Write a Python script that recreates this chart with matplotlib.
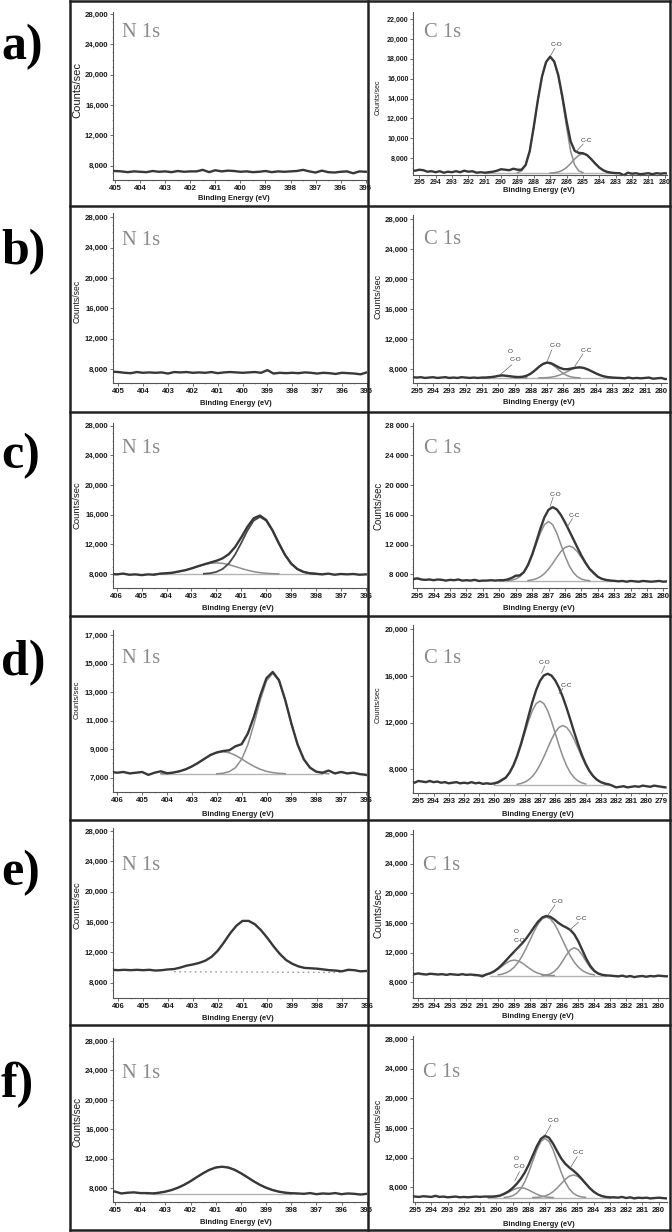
import numpy as np
import matplotlib
matplotlib.use("Agg")
import matplotlib.pyplot as plt
from matplotlib.ticker import FuncFormatter, FixedLocator, AutoMinorLocator, MultipleLocator
from matplotlib.lines import Line2D

W, H = 672, 1232
STEP = 0.25

plt.rcParams['font.family'] = ['Liberation Sans', 'DejaVu Sans']
plt.rcParams['font.weight'] = 'bold'

# ---------------- data (counts/sec) ----------------
# a) N 1s
aN_start = 405.25
aN_raw = [7250, 7300, 7250, 7150, 7250, 7200, 7150, 7300, 7200, 7250, 7150, 7300, 7200, 7250,
          7250, 7450, 7150, 7400, 7250, 7350, 7300, 7200, 7250, 7150, 7200, 7300, 7150, 7250,
          7200, 7250, 7300, 7450, 7250, 7100, 7350, 7150, 7100, 7200, 7250, 7000, 7250, 7200, 7250]

# a) C 1s
aC_start = 295.5
aC_raw = [6800, 6750, 6850, 6800, 6650, 6700, 6600, 6700, 6550, 6650, 6600, 6700, 6600, 6750,
          6650, 6700, 6550, 6600, 6550, 6600, 6650, 6750, 6900, 6850, 6800, 6950, 6850, 6850,
          7320, 8720, 11180, 13870, 16210, 17670, 18210, 17720, 16330, 14160, 11750, 9700, 8750,
          8540, 8510, 8330, 7930, 7480, 7070, 6790, 6620, 6550, 6510, 6500, 6300, 6550, 6450,
          6500, 6400, 6450, 6500, 6400, 6500, 6450, 6500, 6450]
aC_base = 6500
aC_base_range = [291.0, 283.0]
aC_CO_start = 289.0
aC_CO = [60, 234, 820, 2220, 4680, 7370, 9710, 11170, 11700, 11170, 9710, 7370, 4680, 2220, 820, 234, 60]
aC_CC_start = 287.0
aC_CC = [14, 45, 122, 285, 569, 975, 1433, 1806, 1950, 1806, 1433, 975, 569, 285, 122, 45, 14]

# b) N 1s
bN_start = 405.25
bN_raw = [7650, 7600, 7500, 7450, 7600, 7500, 7550, 7500, 7550, 7400, 7600, 7550, 7600, 7500,
          7550, 7500, 7600, 7450, 7550, 7600, 7550, 7500, 7550, 7600, 7500, 7850, 7400, 7500,
          7450, 7500, 7450, 7550, 7500, 7400, 7500, 7450, 7350, 7500, 7450, 7400, 7300, 7550, 7450]

# b) C 1s
bC_start = 295.25
bC_raw = [6950, 6900, 6950, 6850, 6900, 6950, 6850, 6900, 6950, 6850, 6900, 6850, 6950, 6900,
          6850, 6900, 6850, 6900, 6900, 6950, 7000, 7130, 7200, 7130, 7060, 7000, 6970, 7010,
          7150, 7430, 7850, 8330, 8720, 8900, 8800, 8520, 8220, 8030, 8010, 8110, 8220, 8260,
          8180, 7980, 7720, 7450, 7220, 7050, 6950, 6900, 6870, 6850, 6800, 6900, 6800, 6850,
          6800, 6850, 6900, 6750, 6800, 6850, 6700, 6750]
bC_base = 6850
bC_base_range = [291.0, 282.5]
bC_OCO_start = 291.25
bC_OCO = [12, 33, 73, 135, 211, 275, 300, 275, 211, 135, 73, 33, 12]
bC_CO_start = 289.0
bC_CO = [14, 46, 125, 292, 584, 1000, 1470, 1852, 2000, 1852, 1470, 1000, 584, 292, 125, 46, 14]
bC_CC_start = 287.5
bC_CC = [7, 18, 46, 102, 204, 368, 595, 865, 1130, 1327, 1400, 1327, 1130, 865, 595, 368, 204,
         102, 46, 18, 7]

# c) N 1s
cN_start = 406.25
cN_raw = [8000, 7950, 8050, 7900, 7950, 7850, 7950, 7900, 8050, 8100, 8180, 8350, 8510, 8750,
          9030, 9290, 9540, 9780, 10110, 10680, 11630, 12940, 14380, 15520, 15880, 15290, 13920,
          12210, 10620, 9420, 8670, 8280, 8100, 8030, 7950, 8050, 7900, 8000, 7950, 8000, 7900,
          7950, 7900]
cN_base = 8000
cN_base_range = [404.25, 397.75]
cN_P1_start = 402.5
cN_P1 = [32, 101, 280, 673, 1417, 2610, 4189, 5875, 7200, 7700, 7200, 5875, 4189, 2610, 1417,
         673, 280, 101, 32]
cN_P2_start = 404.5
cN_P2 = [20, 45, 94, 180, 315, 509, 750, 1016, 1262, 1437, 1500, 1437, 1262, 1016, 750, 509,
         315, 180, 94, 45, 20]

# c) C 1s
cC_start = 295.25
cC_raw = [7350, 7450, 7300, 7250, 7300, 7200, 7300, 7250, 7150, 7250, 7200, 7300, 7150, 7200,
          7150, 7250, 7100, 7150, 7150, 7200, 7150, 7200, 7200, 7300, 7500, 7800, 7850, 8290,
          9270, 10640, 12340, 14120, 15670, 16690, 17030, 16740, 16000, 15000, 13900, 12770,
          11640, 10540, 9560, 8730, 8200, 7660, 7390, 7240, 7160, 7120, 7050, 7100, 7000, 7100,
          7050, 7000, 7100, 7050, 7000, 7050, 7100, 7000, 7050]
cC_base = 7100
cC_base_range = [290.0, 283.0]
cC_CO_start = 289.5
cC_CO = [38, 105, 261, 582, 1168, 2104, 3400, 4944, 6456, 7584, 8000, 7584, 6456, 4944, 3400,
         2104, 1168, 582, 261, 105, 38]
cC_CC_start = 288.25
cC_CC = [62, 141, 294, 564, 987, 1593, 2350, 3182, 3953, 4503, 4700, 4503, 3953, 3182, 2350,
         1593, 987, 564, 294, 141, 62]

# d) N 1s
dN_start = 406.25
dN_raw = [7400, 7350, 7400, 7300, 7350, 7400, 7200, 7350, 7450, 7310, 7360, 7450, 7590, 7790,
          8040, 8320, 8600, 8770, 8870, 8920, 9200, 9350, 10100, 11310, 12770, 13980, 14410,
          13840, 12460, 10790, 9320, 8290, 7700, 7420, 7350, 7500, 7300, 7400, 7300, 7350, 7250,
          7200, 7050]
dN_base = 7260
dN_base_range = [404.25, 397.75]
dN_P1_start = 402.0
dN_P1 = [14, 51, 162, 441, 1029, 2059, 3525, 5182, 6528, 7050, 6528, 5182, 3525, 2059, 1029,
         441, 162, 51, 14]
dN_P2_start = 404.25
dN_P2 = [20, 47, 98, 187, 328, 529, 780, 1056, 1312, 1494, 1560, 1494, 1312, 1056, 780, 529,
         328, 187, 98, 47, 20]

# d) C 1s
dC_start = 295.5
dC_raw = [6950, 6850, 7000, 6950, 6900, 7000, 6900, 6950, 6850, 6900, 6800, 6850, 6900, 6800,
          6850, 6800, 6900, 6800, 6850, 6750, 6800, 6750, 6800, 6900, 7100, 7290, 7720, 8330,
          9160, 10180, 11350, 12590, 13780, 14800, 15580, 16040, 16190, 16040, 15620, 14990,
          14190, 13250, 12230, 11170, 10160, 9240, 8470, 7860, 7410, 7100, 6900, 6780, 6720,
          6600, 6450, 6500, 6550, 6450, 6500, 6550, 6500, 6600, 6550, 6500, 6600, 6550, 6500, 6450]
dC_base = 6650
dC_base_range = [290.0, 282.5]
dC_CO_start = 290.0
dC_CO = [94, 189, 356, 629, 1051, 1649, 2441, 3391, 4450, 5494, 6386, 6984, 7200, 6984, 6386,
         5494, 4450, 3391, 2441, 1649, 1051, 629, 356, 189, 94]
dC_CC_start = 288.5
dC_CC = [67, 134, 252, 446, 745, 1168, 1729, 2402, 3152, 3891, 4524, 4947, 5100, 4947, 4524,
         3891, 3152, 2402, 1729, 1168, 745, 446, 252, 134, 67]

# e) N 1s
eN_start = 406.25
eN_raw = [9700, 9650, 9700, 9650, 9700, 9650, 9700, 9600, 9650, 9750, 9800, 10000, 10250, 10400,
          10600, 10900, 11400, 12200, 13300, 14500, 15500, 16150, 16150, 15700, 14900, 13900,
          12800, 11800, 11000, 10500, 10150, 9950, 9900, 9850, 9750, 9650, 9600, 9500, 9700,
          9650, 9500, 9550, 9600]
eN_dash_x = [403.75, 397.0]
eN_dash_y = [9450, 9350]

# e) C 1s
eC_start = 295.5
eC_raw = [9150, 9100, 9200, 9100, 9050, 9150, 9100, 9050, 9100, 9000, 9100, 9050, 9000, 9100,
          9000, 9050, 9000, 8950, 8800, 9050, 9230, 9500, 9900, 10410, 10990, 11580, 12150,
          12700, 13270, 13920, 14680, 15480, 16210, 16740, 16950, 16830, 16470, 16030, 15660,
          15390, 15060, 14470, 13540, 12350, 11170, 10210, 9550, 9180, 9010, 8930, 8900, 8850,
          8800, 8900, 8750, 8850, 8700, 8800, 8850, 8750, 8850, 8800, 8900, 8850, 8800, 8850]
eC_base = 8900
eC_base_range = [290.5, 283.25]
eC_OCO_start = 291.5
eC_OCO = [10, 28, 68, 153, 307, 552, 893, 1298, 1695, 1991, 2100, 1991, 1695, 1298, 893, 552,
          307, 153, 68, 28, 10]
eC_CO_start = 290.0
eC_CO = [103, 208, 390, 690, 1153, 1809, 2678, 3721, 4882, 6028, 7007, 7663, 7900, 7663, 7007,
         6028, 4882, 3721, 2678, 1809, 1153, 690, 390, 208, 103]
eC_CC_start = 287.25
eC_CC = [27, 86, 235, 549, 1098, 1880, 2764, 3482, 3760, 3482, 2764, 1880, 1098, 549, 235, 86, 27]

# f) N 1s
fN_start = 405.25
fN_raw = [7650, 7550, 7300, 7400, 7450, 7350, 7350, 7300, 7400, 7550, 7770, 8080, 8480, 8970,
          9520, 10050, 10510, 10820, 10930, 10820, 10510, 10050, 9520, 8970, 8480, 8080, 7770,
          7550, 7410, 7330, 7300, 7250, 7350, 7200, 7300, 7250, 7350, 7200, 7300, 7250, 7150,
          7250, 7200]
fN_base = 7230
fN_base_range = [403.5, 398.0]
fN_P1_start = 403.75
fN_P1 = [48, 97, 183, 323, 540, 847, 1254, 1743, 2287, 2823, 3282, 3589, 3700, 3589, 3282, 2823,
         2287, 1743, 1254, 847, 540, 323, 183, 97, 48]

# f) C 1s
fC_start = 295.25
fC_raw = [6800, 6750, 6700, 6800, 6750, 6700, 6850, 6700, 6750, 6650, 6700, 6750, 6650, 6700,
          6650, 6700, 6750, 6700, 6750, 6750, 6750, 6800, 6900, 7150, 7440, 7890, 8440, 9120,
          9970, 11040, 12290, 13550, 14530, 14940, 14680, 13880, 12850, 11890, 11170, 10670,
          10240, 9760, 9170, 8530, 7910, 7410, 7050, 6820, 6700, 6640, 6650, 6600, 6700, 6550,
          6650, 6500, 6600, 6550, 6600, 6500, 6550, 6600, 6550, 6500]
fC_base = 6600
fC_base_range = [290.5, 283.0]
fC_OCO_start = 290.5
fC_OCO = [18, 49, 118, 248, 458, 734, 1030, 1262, 1350, 1262, 1030, 734, 458, 248, 118, 49, 18]
fC_CO_start = 289.5
fC_CO = [38, 105, 261, 582, 1168, 2104, 3400, 4944, 6456, 7584, 8000, 7584, 6456, 4944, 3400,
         2104, 1168, 582, 261, 105, 38]
fC_CC_start = 287.75
fC_CC = [15, 40, 100, 222, 447, 805, 1301, 1891, 2469, 2901, 3060, 2901, 2469, 1891, 1301, 805,
         447, 222, 100, 40, 15]

# ---------------- drawing ----------------
RAW = '#383838'
COMP = '#8e8e8e'
BASE = '#b4b4b4'
BOX = '#222222'

fig = plt.figure(figsize=(W / 100, H / 100), dpi=100)


def comma(v, p):
    return f"{int(round(v)):,}"


def spaced(v, p):
    return f"{int(round(v)):,}".replace(",", " ")


def energies(start, n):
    return start - STEP * np.arange(n)


def panel(rect, xlim, ylim, yticks, fmt=comma, labelsize=5.6, pad=1.5):
    l, r, t, b = rect
    ax = fig.add_axes([l / W, 1 - b / H, (r - l) / W, (b - t) / H])
    ax.set_xlim(*xlim)
    ax.set_ylim(*ylim)
    ax.patch.set_alpha(0)
    for s in ("top", "right"):
        ax.spines[s].set_visible(False)
    for s in ("left", "bottom"):
        ax.spines[s].set_color('#555555')
        ax.spines[s].set_linewidth(0.8)
    xt = np.arange(np.ceil(min(xlim)), np.floor(max(xlim)) + 1)
    ax.xaxis.set_major_locator(FixedLocator(xt))
    ax.xaxis.set_minor_locator(MultipleLocator(0.5))
    ax.xaxis.set_major_formatter(FuncFormatter(lambda v, p: f"{v:.0f}"))
    ax.yaxis.set_major_locator(FixedLocator(yticks))
    ax.yaxis.set_minor_locator(AutoMinorLocator(4))
    ax.yaxis.set_major_formatter(FuncFormatter(fmt))
    ax.tick_params(which='major', length=2, width=0.6, color='#555555',
                   labelsize=labelsize, pad=pad, labelcolor='#1a1a1a')
    ax.tick_params(which='minor', length=1, width=0.4, color='#777777')
    return ax


def raw(ax, start, vals):
    ax.plot(energies(start, len(vals)), vals, color=RAW, lw=1.7, zorder=4,
            solid_joinstyle='round')


def comp(ax, start, vals, base, color=COMP, lw=1.1):
    ax.plot(energies(start, len(vals)), base + np.array(vals), color=color, lw=lw, zorder=3)


def baseline(ax, rng, base):
    ax.plot(rng, [base, base], color=BASE, lw=1.0, zorder=2)


def tag(ax, text, tx, ty, x0, y0, x1, y1):
    ax.text(tx, ty, text, ha='center', va='center', fontsize=4.6, weight='normal', color='#333333')
    ax.plot([x0, x1], [y0, y1], color='#666666', lw=0.5, zorder=5)


def tag_oco(ax, ox, oy, tx, ty, x0, y0, x1, y1):
    ax.text(ox, oy, "O", ha='center', va='center', fontsize=4.6, weight='normal', color='#333333')
    tag(ax, "C-O", tx, ty, x0, y0, x1, y1)


# a)
ax = panel((113.3, 367, 11.7, 180), (405.07, 394.95), (6115, 28303), [8000, 12000, 16000, 20000, 24000, 28000])
raw(ax, aN_start, aN_raw)

ax = panel((412.7, 667, 11.7, 174.5), (295.4, 279.86), (6370, 22730), list(range(8000, 22001, 2000)),
           labelsize=5.0, pad=1.0)
baseline(ax, aC_base_range, aC_base)
comp(ax, aC_CO_start, aC_CO, aC_base)
comp(ax, aC_CC_start, aC_CC, aC_base)
raw(ax, aC_start, aC_raw)
tag(ax, "C-O", 286.59, 19400, 286.71, 19060, 286.98, 18300)
tag(ax, "C-C", 284.78, 9770, 284.98, 9440, 285.45, 8600)

# b)
ax = panel((113.3, 367, 213.3, 382.7), (405.2, 394.99), (6194, 28527), [8000, 12000, 16000, 20000, 24000, 28000])
raw(ax, bN_start, bN_raw)

ax = panel((412.7, 666.7, 215, 383.3), (295.25, 279.66), (6137, 28532), [8000, 12000, 16000, 20000, 24000, 28000])
baseline(ax, bC_base_range, bC_base)
comp(ax, bC_OCO_start, bC_OCO, bC_base)
comp(ax, bC_CO_start, bC_CO, bC_base)
comp(ax, bC_CC_start, bC_CC, bC_base)
raw(ax, bC_start, bC_raw)
tag(ax, "C-O", 286.51, 11140, 286.72, 10570, 287.0, 9050)
tag(ax, "C-C", 284.57, 10475, 284.8, 10040, 285.3, 8400)
tag_oco(ax, 289.25, 10340, 288.97, 9240, 289.17, 8590, 289.9, 7250)

# c)
ax = panel((113.3, 367, 422.7, 588.3), (406.14, 395.95), (6071, 28405), [8000, 12000, 16000, 20000, 24000, 28000])
baseline(ax, cN_base_range, cN_base)
comp(ax, cN_P2_start, cN_P2, cN_base)
comp(ax, cN_P1_start, cN_P1, cN_base, color='#4a4a4a', lw=1.3)
raw(ax, cN_start, cN_raw)

ax = panel((413.3, 666.7, 422.7, 588.3), (295.24, 279.8), (6112, 28405), [8000, 12000, 16000, 20000, 24000, 28000], spaced)
baseline(ax, cC_base_range, cC_base)
comp(ax, cC_CO_start, cC_CO, cC_base)
comp(ax, cC_CC_start, cC_CC, cC_base)
raw(ax, cC_start, cC_raw)
tag(ax, "C-O", 286.6, 18750, 286.72, 18380, 286.9, 17150)
tag(ax, "C-C", 285.4, 15950, 285.55, 15500, 285.85, 14400)

# d)
ax = panel((113.3, 367, 630, 791.7), (406.16, 395.96), (6019, 17350), [7000, 9000, 11000, 13000, 15000, 17000])
baseline(ax, dN_base_range, dN_base)
comp(ax, dN_P2_start, dN_P2, dN_base)
comp(ax, dN_P1_start, dN_P1, dN_base)
raw(ax, dN_start, dN_raw)

ax = panel((412.7, 666.7, 625, 793.3), (295.37, 278.67), (5943, 20370), [8000, 12000, 16000, 20000])
baseline(ax, dC_base_range, dC_base)
comp(ax, dC_CO_start, dC_CO, dC_base)
comp(ax, dC_CC_start, dC_CC, dC_base)
raw(ax, dC_start, dC_raw)
tag(ax, "C-O", 286.69, 17135, 286.69, 16850, 286.9, 16250)
tag(ax, "C-C", 285.27, 15224, 285.5, 14940, 285.75, 14500)

# e)
ax = panel((113.3, 367, 827.7, 997.7), (406.2, 395.99), (6022, 28440), [8000, 12000, 16000, 20000, 24000, 28000])
ax.plot(eN_dash_x, eN_dash_y, color='#9a9a9a', lw=1.0, ls=(0, (1.2, 2.5)), zorder=2)
raw(ax, eN_start, eN_raw)

ax = panel((412.7, 667.7, 830, 998.3), (295.35, 279.41), (5842, 28540), [8000, 12000, 16000, 20000, 24000, 28000])
baseline(ax, eC_base_range, eC_base)
comp(ax, eC_OCO_start, eC_OCO, eC_base)
comp(ax, eC_CO_start, eC_CO, eC_base)
comp(ax, eC_CC_start, eC_CC, eC_base)
raw(ax, eC_start, eC_raw)
tag_oco(ax, 288.85, 14820, 288.69, 13570, 288.54, 13030, 289.0, 12100)
tag(ax, "C-O", 286.31, 18870, 286.46, 18425, 286.9, 17050)
tag(ax, "C-C", 284.79, 16540, 285.0, 16090, 285.5, 15100)

# f)
ax = panel((113.3, 367, 1037.7, 1202.3), (405.07, 394.99), (6099, 28450), [8000, 12000, 16000, 20000, 24000, 28000])
baseline(ax, fN_base_range, fN_base)
comp(ax, fN_P1_start, fN_P1, fN_base)
raw(ax, fN_start, fN_raw)

ax = panel((412.7, 666.7, 1035.7, 1201.7), (295.15, 279.5), (6058, 28440), [8000, 12000, 16000, 20000, 24000, 28000])
baseline(ax, fC_base_range, fC_base)
comp(ax, fC_OCO_start, fC_OCO, fC_base)
comp(ax, fC_CO_start, fC_CO, fC_base)
comp(ax, fC_CC_start, fC_CC, fC_base)
raw(ax, fC_start, fC_raw)
tag(ax, "C-O", 286.5, 16940, 286.64, 16400, 287.0, 15000)
tag(ax, "C-C", 284.95, 12670, 285.01, 12130, 285.45, 10600)
tag_oco(ax, 288.78, 11910, 288.58, 10740, 288.58, 10100, 288.85, 8900)

# ---------------- figure texts ----------------
def ftext(x, y, s, **kw):
    fig.text(x / W, 1 - y / H, s, **kw)


row_labels = ["a)", "b)", "c)", "d)", "e)", "f)"]
row_label_y = [47, 252, 456, 663, 873, 1085]
for s, y in zip(row_labels, row_label_y):
    ftext(1, y, s, fontsize=36, family='Liberation Serif', weight='bold', va='center', ha='left')

core_pos = [(122, 37, "N 1s"), (424.3, 37.3, "C 1s"), (121.7, 245, "N 1s"), (424.3, 244, "C 1s"),
            (121.7, 453.3, "N 1s"), (424.3, 453.3, "C 1s"), (121.7, 663.3, "N 1s"), (424.3, 663.3, "C 1s"),
            (121.7, 870, "N 1s"), (423.3, 870, "C 1s"), (121.7, 1078, "N 1s"), (423.3, 1076.7, "C 1s")]
for x, y, s in core_pos:
    ftext(x, y, s, fontsize=14.8, family='Liberation Serif', weight='normal', color='#8a8a8a',
          va='baseline', ha='left')

xlab_pos = [(234, 198), (539, 190), (236, 403.3), (539, 402.3), (238, 608.3), (539, 608.5),
            (238, 814), (538, 814), (238, 1019), (538, 1016.7), (236, 1223), (539, 1224)]
for x, y in xlab_pos:
    ftext(x, y, "Binding Energy (eV)", fontsize=5.4, weight='bold', color='#1a1a1a',
          ha='center', va='center')

ylab_pos = [(77, 90, 8.0), (378, 97.5, 5.0), (77.3, 301.7, 6.2), (378.3, 296, 6.5),
            (77.3, 505, 6.8), (378.3, 506, 6.9), (77.3, 700, 5.5), (378.3, 705, 5.3),
            (77.3, 905, 6.8), (378.3, 913, 7.2), (77.3, 1122, 7.2), (378.3, 1120, 6.2)]
for x, y, size in ylab_pos:
    ftext(x, y, "Counts/sec", fontsize=size, weight='normal', color='#1a1a1a',
          rotation=90, ha='center', va='center')

# panel frames
col_x = [70, 368, 670]
row_y = [1, 206, 412, 616, 820, 1025, 1230]
for x in col_x:
    fig.add_artist(Line2D([x / W, x / W], [1 - row_y[0] / H, 1 - row_y[-1] / H],
                          color=BOX, lw=1.8, zorder=10))
for y in row_y:
    fig.add_artist(Line2D([col_x[0] / W, col_x[-1] / W], [1 - y / H, 1 - y / H],
                          color=BOX, lw=1.8, zorder=10))

fig.savefig("out.png", dpi=100, facecolor='white')
